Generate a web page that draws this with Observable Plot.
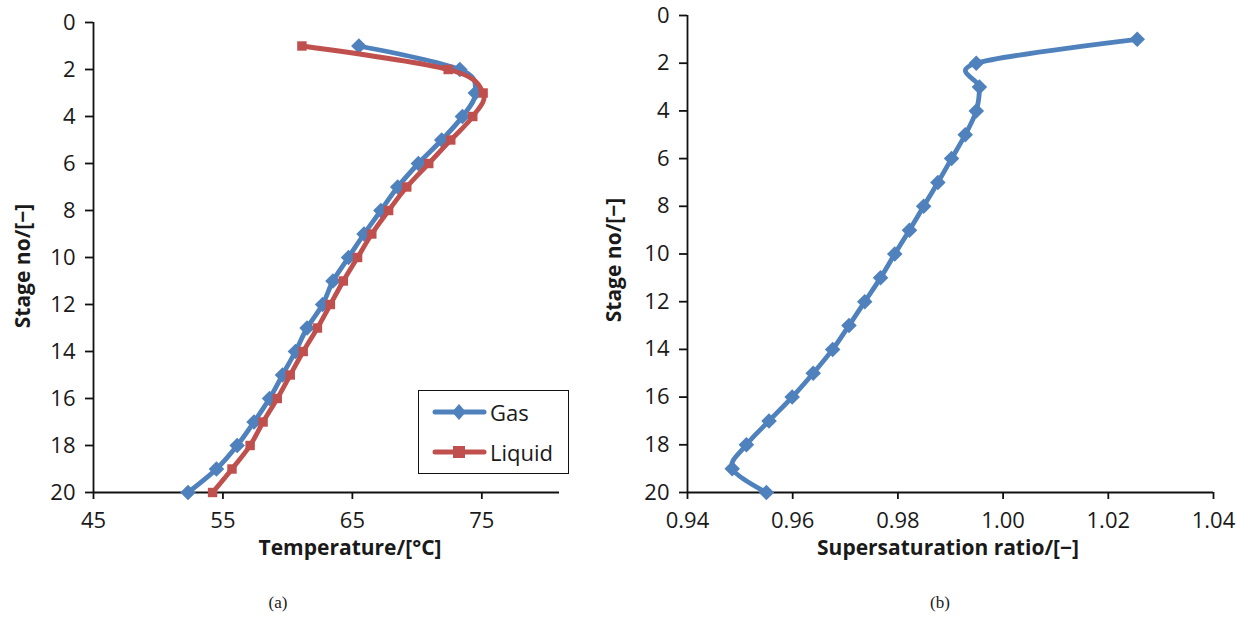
<!DOCTYPE html>
<html>
<head>
<meta charset="utf-8">
<script src="https://cdn.jsdelivr.net/npm/d3@7"></script>
<script src="https://cdn.jsdelivr.net/npm/@observablehq/plot@0.6"></script>
<style>
  html, body { margin: 0; padding: 0; background: #fff; }
  #wrap { position: relative; width: 1251px; height: 623px; overflow: hidden; font-family: "Open Sans", sans-serif; color: #1a1a1a; }
  .panel { position: absolute; top: 0; }
  .xtitle { position: absolute; font-weight: bold; font-size: 21px; white-space: nowrap; transform: translateX(-50%); }
  .ytitle { position: absolute; font-weight: bold; font-size: 21px; white-space: nowrap; transform: translate(-50%, -50%) rotate(-90deg); }
  .cap { position: absolute; font-family: "Liberation Serif", serif; font-size: 17px; transform: translateX(-50%); }
  #legend { position: absolute; left: 418px; top: 390px; width: 151px; height: 84px; border: 1.5px solid #111; background: #fff; box-sizing: border-box; }
  #legend .row { position: absolute; left: 13px; display: flex; align-items: center; font-size: 22px; }
</style>
</head>
<body>
<div id="wrap"></div>
<script>
// ---------- data ----------
const stages = [1,2,3,4,5,6,7,8,9,10,11,12,13,14,15,16,17,18,19,20];
const gasTemp = [65.5,73.3,74.5,73.5,71.9,70.1,68.5,67.2,65.9,64.7,63.5,62.7,61.5,60.6,59.6,58.6,57.4,56.1,54.5,52.3];
const liquidTemp = [61.1,72.4,75.1,74.3,72.6,70.9,69.2,67.8,66.5,65.4,64.3,63.3,62.3,61.2,60.2,59.2,58.1,57.1,55.7,54.2];
const supersat = [1.0255,0.9949,0.9955,0.9949,0.9928,0.9902,0.9876,0.9849,0.9822,0.9794,0.9767,0.9737,0.9707,0.9676,0.9639,0.9599,0.9555,0.9512,0.9485,0.9550];
const stageTicks = [0,2,4,6,8,10,12,14,16,18,20];
const tempTicks = [45,55,65,75];
const ssTicks = [0.94,0.96,0.98,1.00,1.02,1.04];
const seriesNames = ["Gas","Liquid"];
const seriesColors = ["#4f81bd","#c0504d"];

const gasRows = stages.map((s,i)=>({stage:s, v:gasTemp[i]}));
const liqRows = stages.map((s,i)=>({stage:s, v:liquidTemp[i]}));
const ssRows = stages.map((s,i)=>({stage:s, v:supersat[i]}));

const wrap = document.getElementById("wrap");
const FONT = "Open Sans, sans-serif";
const TXT = "#1a1a1a";

function panel(opts) {
  const {xDomain, xTicks, xFmt, marginLeft, marginRight, marginTop, width, series} = opts;
  const marks = [];
  marks.push(Plot.ruleY([20], {x1: xDomain[0], x2: xDomain[1], stroke: "#111", strokeWidth: 1.8}));
  marks.push(Plot.ruleX([xDomain[0]], {y1: 0, y2: 20, stroke: "#111", strokeWidth: 1.8}));
  marks.push(Plot.axisY({ticks: stageTicks, tickSize: 8, tickPadding: 10, fontSize: 22, tickFormat: d => String(d), stroke: "#111", strokeWidth: 1.8, fill: TXT, label: null}));
  marks.push(Plot.axisX({ticks: xTicks, tickSize: 7, tickPadding: 13, fontSize: 22, tickFormat: xFmt, stroke: "#111", strokeWidth: 1.8, fill: TXT, label: null}));
  for (const s of series) {
    marks.push(Plot.line(s.rows, {x: "v", y: "stage", stroke: s.color, strokeWidth: 4.8, curve: "cardinal", tension: 0}));
    marks.push(Plot.dot(s.rows, {x: "v", y: "stage", fill: s.color, symbol: s.symbol, r: s.r, stroke: "none"}));
  }
  return Plot.plot({
    width, height: 562,
    marginLeft, marginRight, marginTop, marginBottom: 70,
    style: {fontFamily: FONT, background: "transparent", overflow: "visible"},
    x: {domain: xDomain, axis: null},
    y: {domain: [0,20], reverse: true, axis: null},
    marks
  });
}

const left = panel({
  xDomain: [45, 81], xTicks: tempTicks, xFmt: d => String(d),
  marginLeft: 93, marginRight: 21, marginTop: 22, width: 580,
  series: [
    {rows: gasRows, color: seriesColors[0], symbol: "diamond2", r: 7},
    {rows: liqRows, color: seriesColors[1], symbol: "square2", r: 6}
  ]
});
left.classList.add("panel");
left.style.left = "0px";
wrap.appendChild(left);

const right = panel({
  xDomain: [0.94, 1.04], xTicks: ssTicks, xFmt: d3.format(".2f"),
  marginLeft: 92, marginRight: 22, marginTop: 15, width: 640,
  series: [
    {rows: ssRows, color: seriesColors[0], symbol: "diamond2", r: 7}
  ]
});
right.classList.add("panel");
right.style.left = "595px";
wrap.appendChild(right);

function addDiv(cls, text, x, y) {
  const d = document.createElement("div");
  d.className = cls; d.textContent = text;
  d.style.left = x + "px"; d.style.top = y + "px";
  wrap.appendChild(d);
  return d;
}
addDiv("xtitle", "Temperature/[°C]", 350, 533);
addDiv("xtitle", "Supersaturation ratio/[−]", 948, 533);
addDiv("ytitle", "Stage no/[−]", 22, 266);
addDiv("ytitle", "Stage no/[−]", 613, 260);
addDiv("cap", "(a)", 278, 593);
addDiv("cap", "(b)", 940, 593);

// legend
const lg = document.createElement("div");
lg.id = "legend";
const symPaths = [
  '<path d="M27 3 L34 11 L27 19 L20 11 Z" fill="#4f81bd"/>',
  '<rect x="21" y="5" width="12" height="12" fill="#c0504d"/>'
];
seriesNames.forEach((name, i) => {
  const row = document.createElement("div");
  row.className = "row";
  row.style.top = (i === 0 ? 6 : 46) + "px";
  row.innerHTML = `<svg width="56" height="22" style="margin-right:2px"><line x1="3" y1="11" x2="52" y2="11" stroke="${seriesColors[i]}" stroke-width="5" stroke-linecap="round"/>${symPaths[i]}</svg><span>${name}</span>`;
  lg.appendChild(row);
});
wrap.appendChild(lg);
</script>
</body>
</html>
